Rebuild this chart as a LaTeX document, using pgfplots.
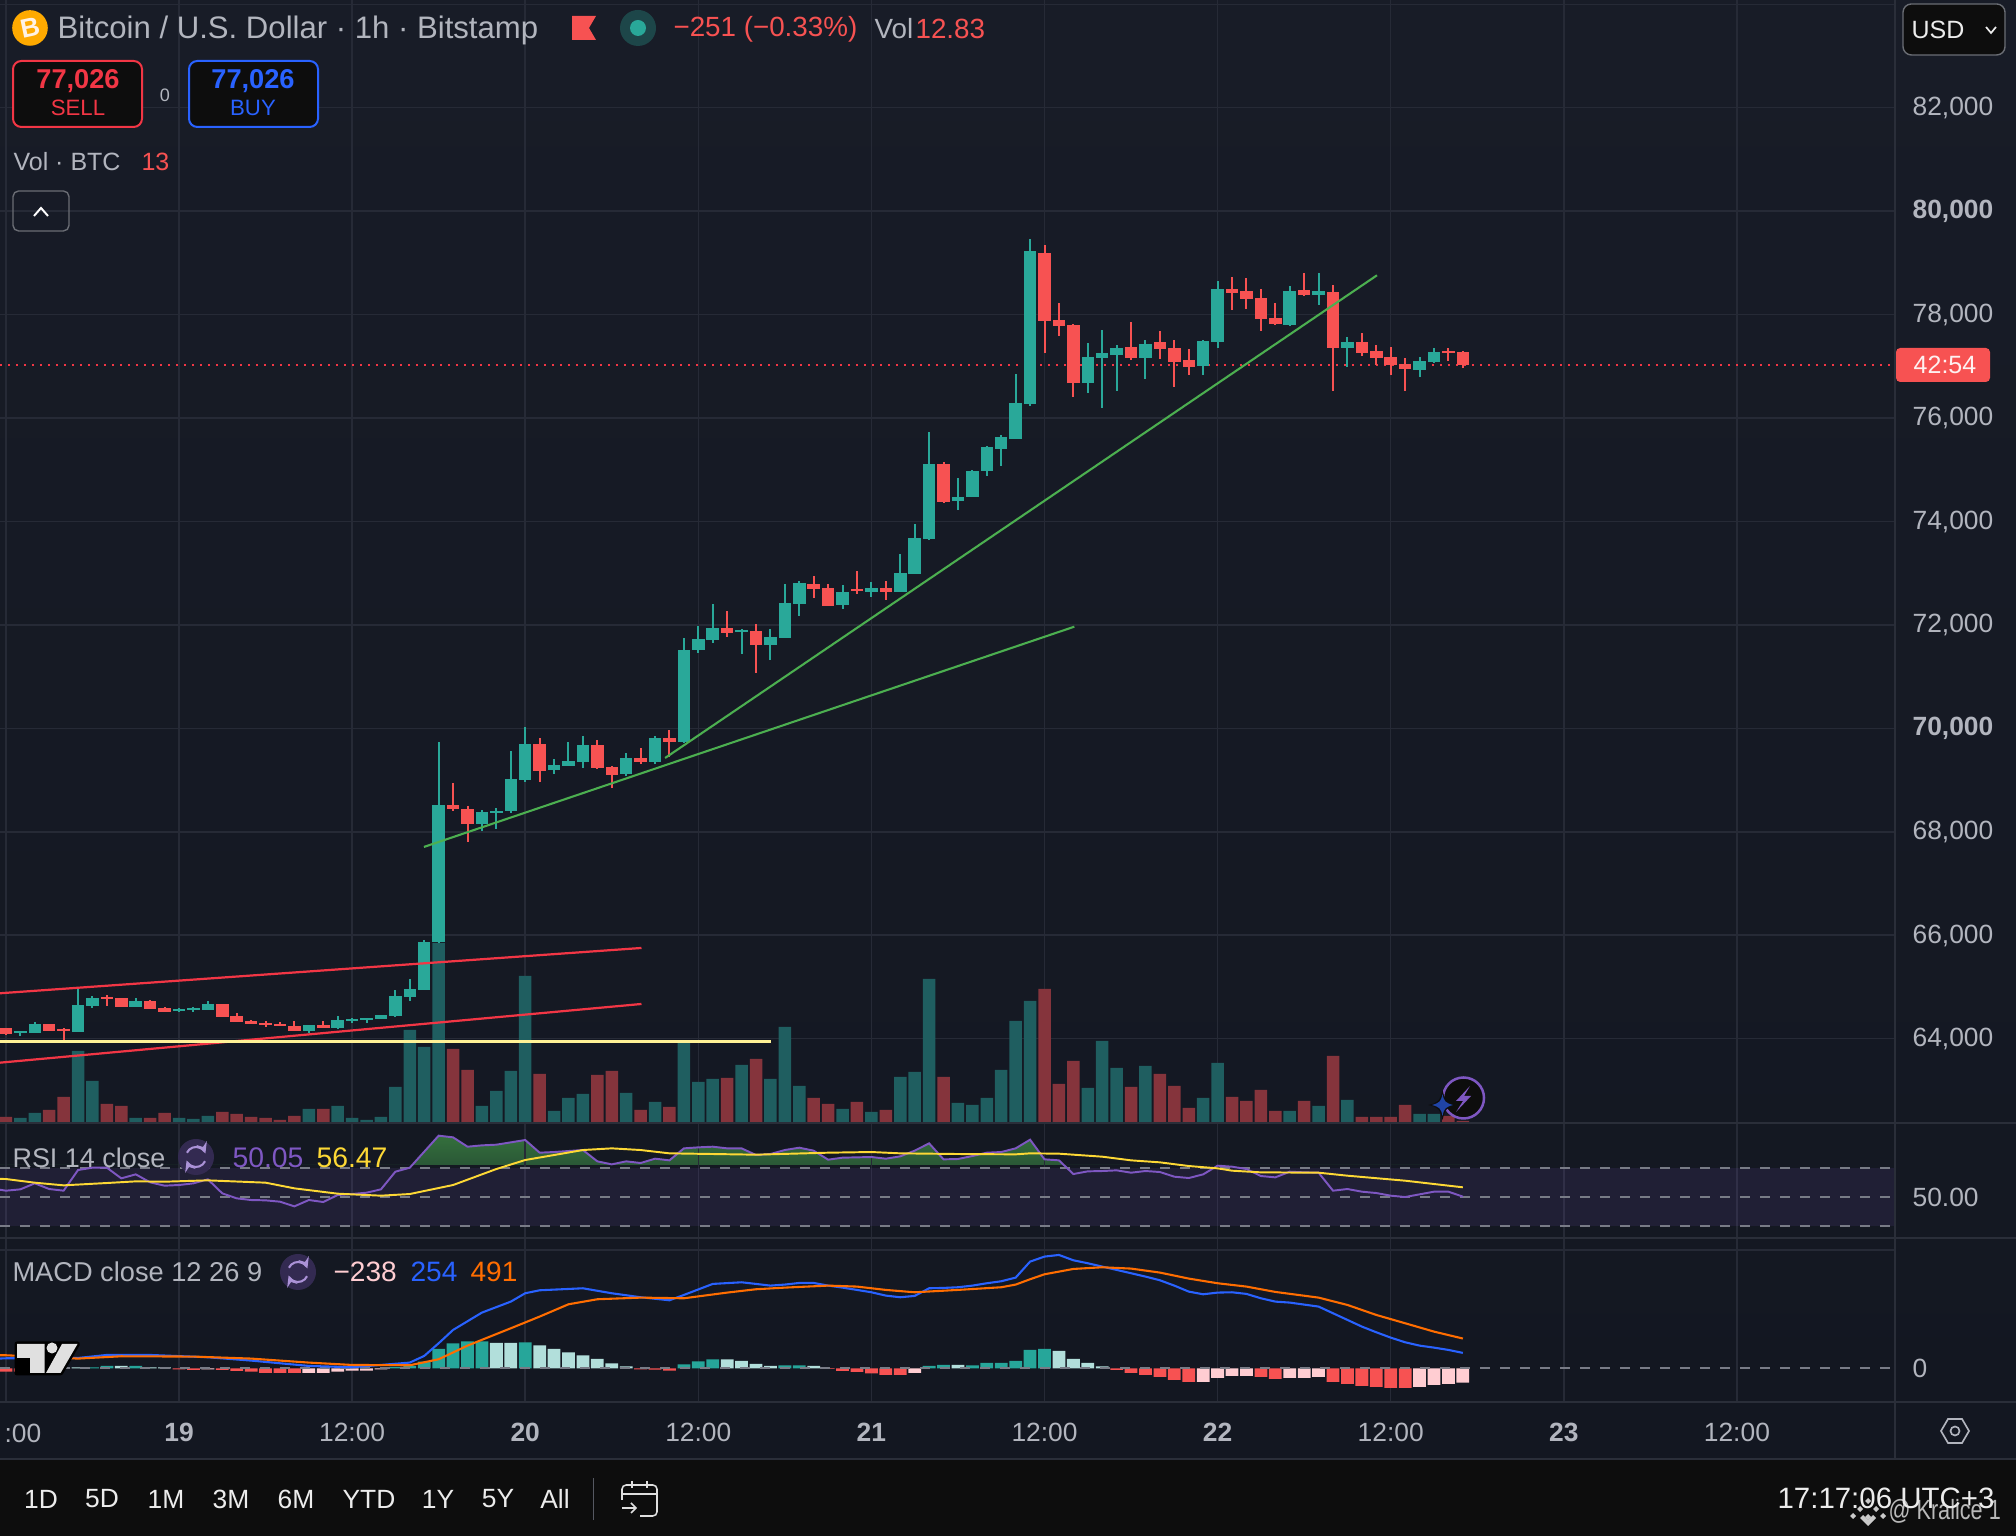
\documentclass[border=0pt]{standalone}
\usepackage{pgfplots}
\usepackage{pgfplotstable}
\pgfplotsset{compat=1.18}
\usepackage{fontspec}
\setmainfont{Liberation Sans}
\definecolor{bgtop}{RGB}{24,28,39}
\definecolor{bgbot}{RGB}{19,23,33}
\definecolor{foot}{RGB}{13,13,13}
\definecolor{gridc}{RGB}{38,42,54}
\definecolor{sep}{RGB}{42,46,57}
\definecolor{gtxt}{RGB}{178,181,190}
\definecolor{up}{RGB}{41,168,153}
\definecolor{dn}{RGB}{247,82,82}
\definecolor{vup}{RGB}{31,94,96}
\definecolor{vdn}{RGB}{133,52,60}
\definecolor{hup}{RGB}{38,166,154}
\definecolor{hlt}{RGB}{178,223,219}
\definecolor{hdn}{RGB}{247,82,82}
\definecolor{hpk}{RGB}{255,205,210}
\definecolor{tline}{RGB}{76,175,80}
\definecolor{rline}{RGB}{242,54,69}
\definecolor{yline}{RGB}{255,241,150}
\definecolor{rsip}{RGB}{126,87,194}
\definecolor{rsiy}{RGB}{253,216,53}
\definecolor{mblue}{RGB}{41,98,255}
\definecolor{morange}{RGB}{255,109,0}
\definecolor{dashg}{RGB}{120,123,134}
\definecolor{sellr}{RGB}{242,54,69}
\definecolor{rsigt}{RGB}{52,112,60}
\definecolor{rsigb}{RGB}{28,52,46}

% t low high bodybottom bodytop
\pgfplotstableread{
t low high bot top
-11 64059 64149 64117 64149
-10 64117 64323 64117 64285
-7 64130 64993 64130 64652
-6 64600 64826 64632 64787
-3 64613 64787 64613 64729
0 64523 64587 64536 64574
1 64523 64613 64555 64587
2 64555 64729 64555 64671
9 64110 64265 64149 64265
11 64181 64439 64207 64362
12 64304 64394 64342 64381
13 64304 64400 64362 64400
14 64381 64458 64381 64458
15 64420 64942 64439 64826
16 64729 65155 64807 64961
17 64942 65909 64942 65870
18 65851 69737 65870 68519
21 68016 68422 68151 68383
22 68055 68461 68364 68403
23 68364 69563 68403 69022
24 68964 70027 69002 69698
26 69118 69408 69196 69292
27 69273 69737 69273 69370
28 69234 69853 69350 69679
31 69080 69524 69118 69428
33 69312 69853 69350 69814
35 69717 71747 69736 71515
36 71457 71979 71515 71728
37 71651 72405 71709 71941
39 71438 71921 71863 71902
41 71322 71921 71612 71767
42 71747 72791 71747 72424
43 72173 72849 72405 72811
46 72308 72772 72385 72637
48 72540 72830 72637 72714
50 72637 73371 72637 73004
51 72985 73951 72985 73681
52 73642 75730 73661 75112
54 74222 74841 74396 74473
55 74473 74996 74473 74976
56 74880 75460 74976 75440
57 75073 75672 75402 75634
58 75595 76851 75595 76291
59 76233 79462 76271 79230
63 76484 77451 76677 77180
64 76194 77702 77161 77257
65 76523 77412 77219 77354
67 76755 77509 77161 77431
71 76832 77509 77006 77489
72 77354 78650 77470 78495
77 77780 78553 77799 78456
79 78186 78804 78379 78456
81 76987 77567 77354 77470
86 76793 77180 76929 77103
87 77064 77354 77083 77277
}\greencandles
\pgfplotstableread{
t low high bot top
-12 64072 64201 64097 64201
-9 64149 64285 64149 64285
-8 63975 64207 64149 64181
-5 64632 64845 64774 64813
-4 64613 64787 64613 64787
-2 64574 64749 64574 64729
-1 64517 64613 64517 64594
3 64420 64671 64420 64671
4 64323 64497 64323 64439
5 64285 64362 64285 64342
6 64227 64342 64265 64304
7 64246 64323 64246 64285
8 64149 64342 64149 64246
10 64207 64342 64207 64265
19 68403 68944 68441 68519
20 67803 68499 68151 68441
25 68964 69814 69176 69698
29 69215 69776 69234 69679
30 68848 69273 69099 69254
32 69312 69621 69350 69428
34 69447 69969 69737 69814
38 71767 72269 71844 71941
40 71071 72018 71612 71882
44 72521 72946 72695 72791
45 72366 72791 72366 72714
47 72598 73043 72656 72695
49 72482 72849 72637 72714
53 74357 75150 74377 75112
60 77257 79346 77876 79191
61 77586 78224 77780 77895
62 76407 77818 76677 77799
66 77122 77857 77161 77373
68 77141 77683 77335 77470
69 76600 77509 77083 77354
70 76832 77335 76987 77122
73 78089 78727 78418 78495
74 78108 78708 78302 78456
75 77683 78495 77915 78321
76 77799 78224 77818 77934
78 78360 78804 78379 78476
80 76523 78572 77354 78437
82 77199 77644 77257 77470
83 77025 77412 77161 77296
84 76832 77373 77025 77180
85 76523 77161 76948 77045
88 77103 77354 77257 77296
89 76967 77296 77026 77277
}\redcandles
\pgfplotstableread{
t v
-11 30
-10 60
-7 432
-6 252
-3 30
0 30
1 24
2 42
9 84
11 102
12 30
13 18
14 36
15 216
16 558
17 456
18 1080
21 102
22 192
23 312
24 882
26 72
27 150
28 174
31 180
33 126
35 492
36 246
37 264
39 348
41 264
42 576
43 222
46 84
48 66
50 276
51 306
52 864
54 120
55 108
56 150
57 318
58 612
59 732
63 210
64 492
65 330
67 342
71 150
72 360
77 72
79 102
81 138
86 54
87 54
}\volup
\pgfplotstableread{
t v
-12 36
-9 78
-8 156
-5 114
-4 102
-2 30
-1 60
3 66
4 54
5 36
6 30
7 18
8 42
10 84
19 444
20 318
25 294
29 288
30 312
32 78
34 96
38 270
40 384
44 150
45 114
47 126
49 78
53 276
60 804
61 234
62 372
66 216
68 294
69 222
70 90
73 156
74 132
75 198
76 72
78 132
80 402
82 36
83 36
84 36
85 108
88 42
89 13
}\voldn
\pgfplotstableread{
t r
-13 55.75
-12 54.14
-11 55.06
-10 59.20
-9 55.29
-8 54.14
-7 68.39
-6 70.00
-5 70.00
-4 62.64
-3 65.40
-2 59.89
-1 57.59
0 58.05
1 59.20
2 61.95
3 52.30
4 48.85
5 47.70
6 47.47
7 46.55
8 43.33
9 47.70
10 46.32
11 51.15
12 51.84
13 52.76
14 55.06
15 67.24
16 70.00
17 81.03
18 92.07
19 90.92
20 84.48
21 85.40
22 85.86
23 87.47
24 89.08
25 80.34
26 80.80
27 81.49
28 82.18
29 74.37
30 72.30
31 74.37
32 73.22
33 76.21
34 75.06
35 83.33
36 84.02
37 84.48
38 83.33
39 83.33
40 78.74
41 79.43
42 82.18
43 83.79
44 81.72
45 75.52
46 76.90
47 77.13
48 77.36
49 76.21
50 77.82
51 81.72
52 86.78
53 75.75
54 75.98
55 78.05
56 80.34
57 80.80
58 83.33
59 89.31
60 75.75
61 75.06
62 65.63
63 67.47
64 67.70
65 68.16
66 66.55
67 67.70
68 67.01
69 63.79
70 62.87
71 65.40
72 71.38
73 70.69
74 69.08
75 64.25
76 63.33
77 67.24
78 66.78
79 66.55
80 54.14
81 55.29
82 53.45
83 52.53
84 50.69
85 49.77
86 51.61
87 53.45
88 53.45
89 50.05
}\rsi
\pgfplotstableread{
t r
-13 62.41
-12 62.18
-10 59.66
-8 57.82
-5 59.43
-3 60.57
-1 60.34
2 61.26
6 59.66
8 55.75
11 52.07
14 50.69
16 51.84
19 58.05
22 69.08
24 75.29
28 82.18
30 83.33
32 82.18
34 79.89
40 78.97
45 80.34
48 80.80
50 79.89
54 79.43
58 79.20
59 79.89
61 79.66
64 77.59
66 75.06
68 73.68
70 71.15
72 69.54
73 67.93
75 66.78
79 66.55
81 64.48
85 61.03
87 58.74
89 56.47
}\rsima
\pgfplotstableread{
t m
-13 154
-12 165
-7 170
-5 220
-2 220
2 182
5 127
9 39
12 17
16 94
17 204
18 413
19 633
21 919
23 1100
24 1238
25 1287
28 1320
30 1238
32 1172
34 1122
35 1210
37 1392
39 1419
40 1392
41 1364
42 1381
43 1408
44 1408
45 1364
46 1331
47 1293
48 1254
49 1199
50 1172
51 1194
52 1320
53 1326
54 1337
55 1364
56 1403
57 1436
58 1496
59 1760
60 1843
61 1870
62 1782
63 1733
64 1678
65 1623
66 1568
67 1513
68 1452
69 1364
70 1265
71 1221
72 1249
73 1254
74 1227
75 1155
76 1100
77 1084
78 1051
79 1018
80 908
81 798
82 688
83 594
84 506
85 429
86 374
87 341
88 303
89 254
}\macd
\pgfplotstableread{
t m
-13 215
-12 215
-7 160
-4 198
1 193
5 160
9 94
12 55
16 50
18 149
20 374
23 660
25 853
27 1056
29 1139
32 1166
35 1155
38 1249
40 1304
42 1331
45 1364
47 1348
49 1293
51 1254
54 1293
57 1337
58 1381
59 1469
60 1551
62 1639
64 1667
66 1645
68 1579
70 1480
72 1403
74 1348
76 1260
79 1166
81 1045
83 880
85 743
87 605
89 491
}\macdsig
\pgfplotstableread{
t h
-6 17
-5 39
-3 39
15 22
16 39
17 110
18 319
19 413
20 446
21 446
24 429
35 66
36 116
37 149
42 50
43 50
52 39
53 55
55 50
56 88
57 88
58 121
59 303
60 319
}\hup
\pgfplotstableread{
t h
-7 17
-4 39
-2 17
-1 17
22 418
23 418
25 380
26 319
27 264
28 215
29 154
30 83
31 33
38 149
39 121
40 72
41 39
44 39
54 55
61 286
62 154
63 88
64 33
}\hlt
\pgfplotstableread{
t h
-12 -55
-11 -55
-10 -50
-9 -30
-8 -10
0 -17
1 -28
3 -28
4 -44
5 -55
6 -77
7 -77
8 -77
32 -17
33 -22
34 -39
45 -11
46 -44
47 -61
48 -83
49 -110
50 -110
65 -28
66 -77
67 -110
68 -143
69 -193
70 -226
75 -143
76 -176
80 -226
81 -259
82 -292
83 -308
84 -325
85 -325
}\hdn
\pgfplotstableread{
t h
2 -17
9 -77
10 -77
11 -55
12 -39
13 -39
14 -17
51 -77
71 -226
72 -160
73 -127
74 -127
77 -160
78 -160
79 -143
86 -308
87 -275
88 -259
89 -238
}\hpk

\pgfplotsset{
  pane/.style={scale only axis,width=682.2pt,xmin=-12.41,xmax=118.96,
    axis line style={draw=none},tick style={draw=none},
    major grid style={color=gridc,line width=0.55pt},
    xtick={-12,0,...,108},
    ticklabel style={font=\fontsize{9.5}{9.5}\selectfont,text=gtxt},
    yticklabel pos=right,
    yticklabel style={anchor=west,xshift=2.8pt,yshift=-0.15pt},
  },
  over/.style={scale only axis,width=682.2pt,xmin=-12.41,xmax=118.96,hide axis},
  wick/.style={line width=0.72pt,quiver={u=0,v=\thisrow{high}-\thisrow{low}}},
  body/.style={line width=4.5pt,quiver={u=0,v=\thisrow{top}-\thisrow{bot}}},
}
\tikzset{P/.style={x=0.36pt,y=-0.36pt,yshift=552.96pt},
  lab/.style={inner sep=0pt,anchor=west,font=\fontsize{#1}{#1}\selectfont},lab/.default=10}

\begin{document}
\begin{tikzpicture}
\path[use as bounding box] (0,0) rectangle (725.76pt,552.96pt);
\begin{scope}[P]
\shade[top color=bgtop,bottom color=bgbot,draw=none] (0,0) rectangle (2016,1459);
\fill[foot] (0,1459) rectangle (2016,1536);
\end{scope}

% price grid and price scale
\begin{axis}[pane,at={(0pt,148.68pt)},anchor=south west,height=404.28pt,
  ymin=62370,ymax=84083,ymajorgrids,xmajorgrids,
  ytick={64000,66000,...,82000},xticklabels={},
  yticklabels={{64,000},{66,000},{68,000},{\textbf{70,000}},{72,000},{74,000},{76,000},{78,000},{\textbf{80,000}},{82,000}},
  extra y ticks={84000},extra y tick labels={},extra y tick style={ymajorgrids=true}]
\end{axis}
% volume
\begin{axis}[over,at={(0pt,148.68pt)},anchor=south west,height=404.28pt,ymin=0,ymax=6738]
\addplot[ybar,bar width=4.5pt,bar shift=0pt,fill=vup,draw=none] table[x=t,y=v] {\volup};
\addplot[ybar,bar width=4.5pt,bar shift=0pt,fill=vdn,draw=none] table[x=t,y=v] {\voldn};
\end{axis}
% candles and drawn lines
\begin{axis}[over,at={(0pt,148.68pt)},anchor=south west,height=404.28pt,ymin=62370,ymax=84083]
\addplot[color=rline,dash pattern=on 0.72pt off 2.16pt,line width=0.72pt] coordinates {(-12.41,77026) (118.96,77026)};
\addplot[color=up] [wick] table[x=t,y=low] {\greencandles};
\addplot[color=up] [body] table[x=t,y=bot] {\greencandles};
\addplot[color=dn] [wick] table[x=t,y=low] {\redcandles};
\addplot[color=dn] [body] table[x=t,y=bot] {\redcandles};
\addplot[color=rline,line width=0.8pt] coordinates {(-12.41,64878) (32.06,65754)};
\addplot[color=rline,line width=0.8pt] coordinates {(-12.41,63536) (32.06,64671)};
\addplot[color=yline,line width=0.9pt] coordinates {(-12.41,63942) (41.03,63942)};
\addplot[color=tline,line width=0.75pt] coordinates {(16.98,67707) (62.07,71966)};
\addplot[color=tline,line width=0.75pt] coordinates {(33.7,69427) (83.05,78760)};
\end{axis}

% RSI green fill above the band
\begin{axis}[over,at={(0pt,{(1536-1165)*0.36pt})},anchor=south west,height=15.12pt,ymin=71.84,ymax=100.83]
\addplot[draw=none,top color=rsigt,bottom color=rsigb] table[x=t,y=r] {\rsi} \closedcycle;
\end{axis}
% RSI
\begin{axis}[pane,at={(0pt,{(1536-1238)*0.36pt})},anchor=south west,height=41.4pt,
  ymin=21.52,ymax=100.83,xmajorgrids,xticklabels={},ytick={50},yticklabels={50.00}]
\addplot[fill=rsip,fill opacity=0.12,draw=none] coordinates {(-12.41,30) (118.96,30) (118.96,70) (-12.41,70)} -- cycle;
\addplot[color=dashg,line width=0.6pt,dash pattern=on 3.6pt off 3.6pt] coordinates {(-12.41,70) (118.96,70)};
\addplot[color=dashg,line width=0.6pt,dash pattern=on 3.6pt off 3.6pt] coordinates {(-12.41,50) (118.96,50)};
\addplot[color=dashg,line width=0.6pt,dash pattern=on 3.6pt off 3.6pt] coordinates {(-12.41,30) (118.96,30)};
\addplot[color=rsip,line width=0.7pt] table[x=t,y=r] {\rsi};
\addplot[color=rsiy,line width=0.7pt] table[x=t,y=r] {\rsima};
\end{axis}
% MACD
\begin{axis}[pane,at={(0pt,{(1536-1402)*0.36pt})},anchor=south west,height=59.04pt,
  ymin=-556,ymax=2150,xmajorgrids,ytick={0},yticklabels={0},
  extra y ticks={1950},extra y tick labels={},extra y tick style={ymajorgrids=true},
  xticklabels={,\textbf{19},12:00,\textbf{20},12:00,\textbf{21},12:00,\textbf{22},12:00,\textbf{23},12:00},
  xticklabel style={yshift=-4.0pt}]
\addplot[ybar,bar width=4.6pt,bar shift=0pt,fill=hup,draw=none] table[x=t,y=h] {\hup};
\addplot[ybar,bar width=4.6pt,bar shift=0pt,fill=hlt,draw=none] table[x=t,y=h] {\hlt};
\addplot[ybar,bar width=4.6pt,bar shift=0pt,fill=hdn,draw=none] table[x=t,y=h] {\hdn};
\addplot[ybar,bar width=4.6pt,bar shift=0pt,fill=hpk,draw=none] table[x=t,y=h] {\hpk};
\addplot[color=dashg,line width=0.6pt,dash pattern=on 3.6pt off 3.6pt] coordinates {(-12.41,0) (118.96,0)};
\addplot[color=mblue,line width=0.75pt] table[x=t,y=m] {\macd};
\addplot[color=morange,line width=0.75pt] table[x=t,y=m] {\macdsig};
\end{axis}

\begin{scope}[P]
% separators
\foreach \yy in {1123,1238,1402,1459}{\fill[sep] (0,\yy-1) rectangle (2016,\yy+1);}
\fill[sep] (1894.3,0) rectangle (1895.7,1459);
% header
\fill[orange!60!yellow!95!red] (30,28) circle (17.8);
\node[rotate=12,font=\bfseries\fontsize{9.5}{9.5}\selectfont,text=white!90!orange,inner sep=0pt] at (30,28) {B};
\node[lab=11.2,text=gtxt] at (57,30) {Bitcoin / U.S. Dollar · 1h · Bitstamp};
\fill[dn] (572,16) -- (596,16) -- (589,28) -- (596,40) -- (572,40) -- cycle;
\fill[up!30!bgtop] (638,28) circle (18);
\fill[up] (638,28) circle (8);
\node[lab=10,text=dn] at (673,29) {−251 (−0.33\%)};
\node[lab=10,text=gtxt] at (874,29) {Vol};
\node[lab=10,text=dn] at (915,29) {12.83};
% sell / buy
\draw[sellr,fill=foot,line width=0.72pt,rounded corners=3pt] (13,61) rectangle (142,127);
\node[inner sep=0pt,text=sellr,font=\bfseries\fontsize{9.8}{9.8}\selectfont] at (78,81) {77,026};
\node[inner sep=0pt,text=sellr,font=\fontsize{8}{8}\selectfont] at (78,108) {SELL};
\node[inner sep=0pt,text=gtxt,font=\fontsize{6.5}{6.5}\selectfont] at (165,95) {0};
\draw[mblue,fill=foot,line width=0.72pt,rounded corners=3pt] (189,61) rectangle (318,127);
\node[inner sep=0pt,text=mblue,font=\bfseries\fontsize{9.8}{9.8}\selectfont] at (253,81) {77,026};
\node[inner sep=0pt,text=mblue,font=\fontsize{8}{8}\selectfont] at (253,108) {BUY};
\node[lab=9,text=gtxt] at (13,162) {Vol · BTC};
\node[lab=9,text=dn] at (141,162) {13};
\draw[sep!70!white,line width=0.5pt,rounded corners=2pt] (13,191) rectangle (69,231);
\draw[white,line width=0.7pt] (34,216) -- (41,208) -- (48,216);
% USD
\draw[sep!70!white,fill=foot,line width=0.5pt,rounded corners=3pt] (1903,4) rectangle (2005,55);
\node[lab=9,text=white!85!gray] at (1911,30) {USD};
\draw[white!85!gray,line width=0.6pt] (1986,27) -- (1991,33) -- (1996,27);
% countdown badge
\fill[dn,rounded corners=1.5pt] (1896,348) rectangle (1990,382);
\node[inner sep=0pt,text=white!92!dn,font=\fontsize{9}{9}\selectfont] at (1945,365) {42:54};
% RSI / MACD legends
\node[lab=9.7,text=gtxt] at (12,1158) {RSI 14 close};
\fill[rsip!30!bgbot] (196,1157) circle (18);
\draw[rsip!65!white,line width=0.75pt,-stealth] (196,1157) ++(25:10) arc (25:160:10);
\draw[rsip!65!white,line width=0.75pt,-stealth] (196,1157) ++(205:10) arc (205:340:10);
\node[lab=10.2,text=rsip] at (232,1158) {50.05};
\node[lab=10.2,text=rsiy] at (316,1158) {56.47};
\node[lab=9.8,text=gtxt] at (12,1272) {MACD close 12 26 9};
\fill[rsip!30!bgbot] (298,1272) circle (18);
\draw[rsip!65!white,line width=0.75pt,-stealth] (298,1272) ++(25:10) arc (25:160:10);
\draw[rsip!65!white,line width=0.75pt,-stealth] (298,1272) ++(205:10) arc (205:340:10);
\node[lab=10.1,text=hpk] at (333,1272) {−238};
\node[lab=10.1,text=mblue] at (410,1272) {254};
\node[lab=10.1,text=morange] at (470,1272) {491};
% TV logo
\begin{scope}[line width=1.8pt,black,line join=round]
\draw[fill=black] (17,1344) -- (77.5,1344) -- (60.6,1373) -- (17,1373) -- cycle;
\end{scope}
\fill[white!88!black] (17,1344) -- (44.6,1344) -- (44.6,1373) -- (30,1373) -- (30,1358) -- (17,1358) -- cycle;
\fill[white!88!black] (52,1348) circle (5.5);
\fill[white!88!black] (62,1344) -- (77.5,1344) -- (60.6,1373) -- (46,1373) -- cycle;
% lightning
\draw[rsip,fill=foot,line width=0.9pt] (1463.5,1098) circle (20.5);
\fill[rsip] (1470,1086) -- (1456,1101) -- (1463,1101) -- (1456,1112) -- (1471,1096) -- (1464,1096) -- cycle;
\fill[foot] (1442.5,1090) .. controls (1445,1101) and (1447,1103) .. (1457,1105) .. controls (1447,1107) and (1445,1109) .. (1442.5,1120) .. controls (1440,1109) and (1438,1107) .. (1428,1105) .. controls (1438,1103) and (1440,1101) .. (1442.5,1090);
\fill[mblue!60!bgbot] (1442.5,1094) .. controls (1444,1102) and (1446,1103) .. (1453,1105) .. controls (1446,1107) and (1444,1108) .. (1442.5,1116) .. controls (1441,1108) and (1439,1107) .. (1432,1105) .. controls (1439,1103) and (1441,1102) .. (1442.5,1094);
% time axis left remnant and gear
\node[lab=9.5,text=gtxt] at (4,1433) {:00};
\draw[gtxt,line width=0.6pt] (1941,1431) -- (1948,1419) -- (1962,1419) -- (1969,1431) -- (1962,1443) -- (1948,1443) -- cycle;
\draw[gtxt,line width=0.6pt] (1955,1431) circle (4.5);
% footer
\foreach \xx/\tt in {41/1D,102/5D,166/1M,231/3M,296/6M,369/YTD,438/1Y,498/5Y,555/All}{
  \node[inner sep=0pt,text=white!85!gray,font=\fontsize{9.5}{9.5}\selectfont] at (\xx,1499) {\tt};}
\fill[sep!80!white] (592.5,1478) rectangle (593.5,1520);
\draw[white!75!gray,line width=0.55pt,rounded corners=1.5pt] (622,1500) -- (622,1485) -- (657,1485) -- (657,1516) -- (640,1516);
\draw[white!75!gray,line width=0.55pt] (622,1494) -- (657,1494) (632,1481) -- (632,1488) (647,1481) -- (647,1488);
\draw[white!75!gray,line width=0.55pt] (622,1508) -- (636,1508) (631,1503) -- (636,1508) -- (631,1513);
\node[lab=10.6,text=white!85!gray] at (1777,1498) {17:17:06 UTC+3};
\node[lab=10,text=white!80!gray,opacity=0.8] at (1888,1511) {\scalebox{0.78}[1]{@ Kralice 1}};
\begin{scope}[white!85!gray,opacity=0.85]
\foreach \dx/\dy in {0/-12,-8/-4,8/-4,-15/3,15/3,0/4}{\fill (1868+\dx,1510+\dy) -- ++(3,3) -- ++(-3,3) -- ++(-3,-3) -- cycle;}
\fill (1868,1526) -- (1860,1518) -- (1863,1515) -- (1868,1520) -- (1873,1515) -- (1876,1518) -- cycle;
\end{scope}
\end{scope}
\end{tikzpicture}
\end{document}
